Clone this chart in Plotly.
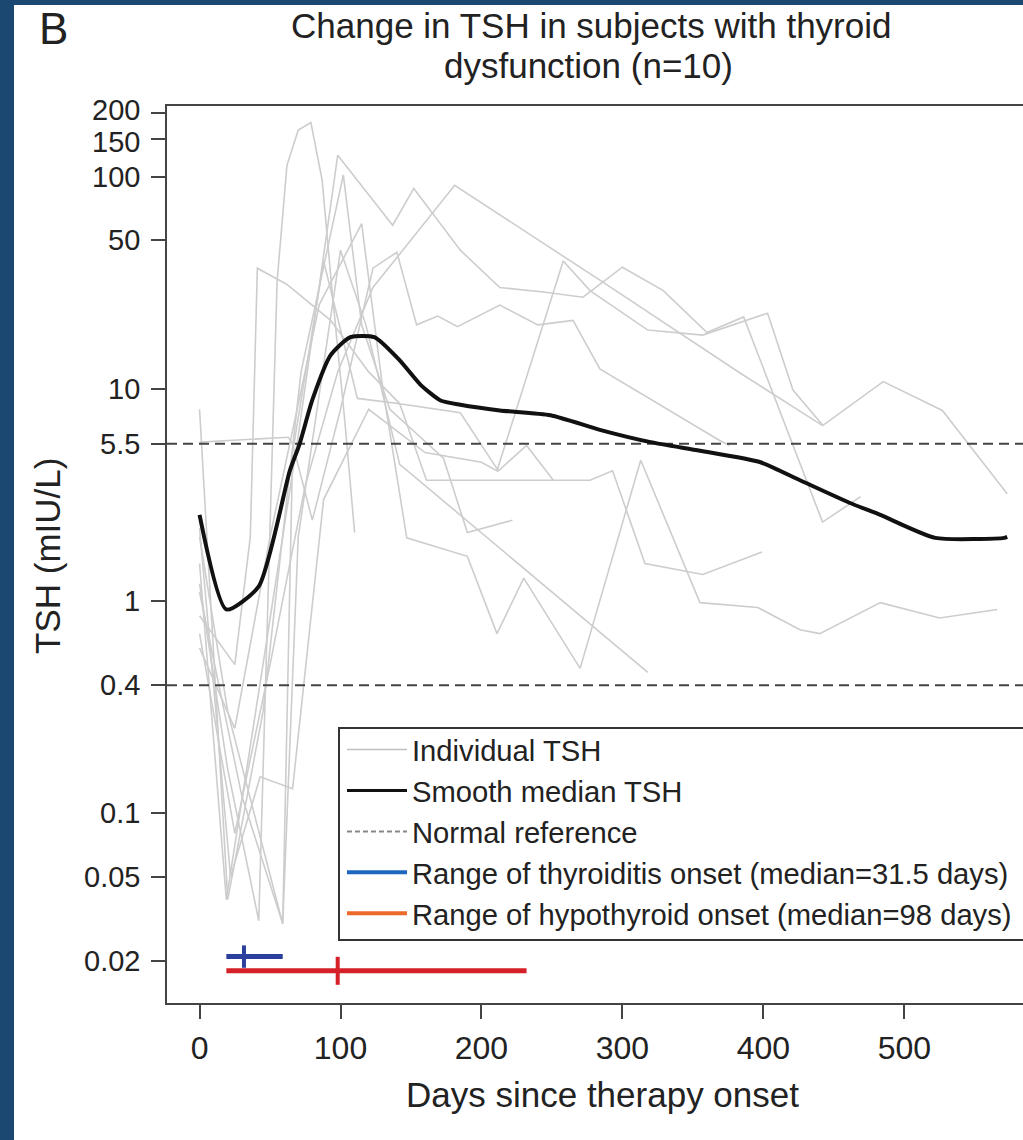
import math
import plotly.graph_objects as go

# ---------------- data ----------------
subj_days = [
    [0, 20, 42, 55, 62, 70, 79, 87, 94, 103, 110],
    [0, 19, 45, 70, 98, 137, 152, 185, 213, 244, 272, 300, 329, 360, 386, 442, 469],
    [0, 25, 50, 75, 98, 123, 181, 284, 384, 442, 485, 527, 573],
    [0, 20, 45, 72, 102, 115, 135, 173, 190, 222],
    [0, 30, 59, 66, 88, 112, 142, 161, 277, 293, 316, 357, 399],
    [0, 25, 50, 85, 115, 130, 147, 190, 211, 230, 270, 313, 355, 396, 426, 440, 483, 525, 566],
    [0, 20, 59, 70, 100, 118, 142, 318],
    [0, 25, 36, 41, 62, 93, 120, 142, 185, 212, 232, 251],
    [0, 63, 66, 80, 100, 123, 140, 154, 169, 183, 213, 240, 265, 284, 369, 376],
    [0, 22, 43, 66, 88, 120, 160, 200, 211, 258, 277, 318, 357, 403, 421, 442],
]
subj_tsh = [
    [1.2, 0.16, 0.031, 32, 113, 166, 180, 96, 29, 7.1, 2.1],
    [1.5, 0.039, 0.5, 6, 126, 59, 88, 45, 30, 28.6, 27, 37.4, 29, 18.4, 21.8, 2.35, 3.1],
    [0.7, 0.08, 0.5, 3.5, 12, 30, 91, 32.5, 11.8, 6.7, 10.8, 7.9, 3.2],
    [8, 0.039, 0.3, 12, 102, 20, 8, 4.7, 2.1, 2.4],
    [1.1, 0.12, 0.03, 5, 40, 9, 8.5, 3.7, 3.7, 4.1, 1.5, 1.33, 1.7],
    [0.6, 0.25, 2, 25, 60, 10, 1.98, 1.62, 0.70, 1.28, 0.48, 4.6, 0.98, 0.93, 0.73, 0.70, 0.98, 0.83, 0.91],
    [2.0, 0.3, 0.03, 2, 45, 20, 4.4, 0.46],
    [0.85, 0.5, 2, 37, 31, 21, 12, 8.5, 7.7, 4.1, 5.4, 3.7],
    [5.6, 5.9, 5.5, 2.4, 8, 37, 44, 20, 22, 19.6, 24.8, 20, 21, 12.4, 5.7, 5.4],
    [2.2, 0.05, 0.148, 0.13, 3, 8, 5, 4.5, 4.1, 40, 29, 18.9, 17.9, 22.7, 9.85, 6.75],
]

median_days = [0, 19, 42, 64, 71, 80, 93, 107, 124, 142, 157, 171, 185, 213, 249, 284, 320,
               355, 398, 426, 461, 483, 522, 571, 573]
median_tsh = [2.54, 0.91, 1.17, 4.1, 5.5, 8.85, 14.4, 17.5, 17.5, 13.6, 10.4, 8.8, 8.4, 7.9,
              7.5, 6.4, 5.6, 5.1, 4.5, 3.7, 2.9, 2.54, 1.98, 1.98, 2.0]

normal_ref = [5.5, 0.4]

thyroiditis_range = [19, 59]
thyroiditis_median = 31.5
thyroiditis_level = 0.021
hypo_range = [19, 232]
hypo_median = 98
hypo_level = 0.018

x_range = [-23.1, 584.2]
y_range_log = [-1.8965, 2.333]

y_tickvals = [200, 150, 100, 50, 10, 5.5, 1, 0.4, 0.1, 0.05, 0.02]
y_ticktext = ["200", "150", "100", "50", "10", "5.5", "1", "0.4", "0.1", "0.05", "0.02"]
x_tickvals = [0, 100, 200, 300, 400, 500]

title_lines = ["Change in TSH in subjects with thyroid", "dysfunction (n=10)"]
legend_labels = [
    "Individual TSH",
    "Smooth median TSH",
    "Normal reference",
    "Range of thyroiditis onset (median=31.5 days)",
    "Range of hypothyroid onset (median=98 days)",
]

# ---------------- layout geometry (page pixels; body margin removed below) ----------------
W, H = 1023, 1140
L, R, T, B = 167, 0, 106, 137
PW, PH = W - L - R, H - T - B


def px(page_x):
    return (page_x - L) / PW


def py(page_y):
    return (H - B - page_y) / PH


FONT = "Liberation Sans, Arial, Helvetica, sans-serif"
GRAY = "#cdcdcd"
BG_BLUE = "#1b4870"
TXT = "#222222"

fig = go.Figure()

for d, v in zip(subj_days, subj_tsh):
    fig.add_trace(go.Scatter(x=d, y=v, mode="lines", line=dict(color=GRAY, width=1.6),
                             showlegend=False, hoverinfo="skip"))

for ref in normal_ref:
    fig.add_trace(go.Scatter(x=x_range, y=[ref, ref], mode="lines",
                             line=dict(color="#444444", width=2, dash="10px,6px"),
                             showlegend=False, hoverinfo="skip"))

fig.add_trace(go.Scatter(x=median_days, y=median_tsh, mode="lines",
                         line=dict(color="#111111", width=4, shape="spline", smoothing=0.6),
                         showlegend=False))

# onset ranges
fig.add_trace(go.Scatter(x=thyroiditis_range, y=[thyroiditis_level] * 2, mode="lines",
                         line=dict(color="#2b3f9c", width=5), showlegend=False))
fig.add_trace(go.Scatter(x=[thyroiditis_median], y=[thyroiditis_level], mode="markers",
                         marker=dict(symbol="line-ns", size=16, line=dict(color="#2b3f9c", width=4)),
                         showlegend=False))
fig.add_trace(go.Scatter(x=hypo_range, y=[hypo_level] * 2, mode="lines",
                         line=dict(color="#d62028", width=5), showlegend=False))
fig.add_trace(go.Scatter(x=[hypo_median], y=[hypo_level], mode="markers",
                         marker=dict(symbol="line-ns", size=20, line=dict(color="#d62028", width=4)),
                         showlegend=False))

# legend entries
leg_styles = [
    dict(color="#c0c0c0", width=1.6),
    dict(color="#111111", width=3),
    dict(color="#888888", width=2, dash="5px,3px"),
    dict(color="#1f68c0", width=4),
    dict(color="#ec6a2c", width=4),
]
for name, st in zip(legend_labels, leg_styles):
    fig.add_trace(go.Scatter(x=[None], y=[None], mode="lines", name=name, line=st))

annotations = [
    dict(text=title_lines[0], xref="paper", yref="paper", x=px(591), y=py(25),
         xanchor="center", yanchor="middle", showarrow=False,
         font=dict(size=35, family=FONT, color=TXT)),
    dict(text=title_lines[1], xref="paper", yref="paper", x=px(588), y=py(65),
         xanchor="center", yanchor="middle", showarrow=False,
         font=dict(size=35, family=FONT, color=TXT)),
    dict(text="B", xref="paper", yref="paper", x=px(53), y=py(29),
         xanchor="center", yanchor="middle", showarrow=False,
         font=dict(size=44, family=FONT, color=TXT)),
    dict(text="Days since therapy onset", xref="paper", yref="paper",
         x=px(602), y=py(1094), xanchor="center", yanchor="middle",
         showarrow=False, font=dict(size=35, family=FONT, color=TXT)),
    dict(text="TSH (mIU/L)", xref="paper", yref="paper", textangle=-90,
         x=px(47), y=py(556), xanchor="center", yanchor="middle",
         showarrow=False, font=dict(size=35, family=FONT, color=TXT)),
]
shift = {"200": 3, "150": -3}
for val, txt in zip(y_tickvals, y_ticktext):
    annotations.append(dict(text=txt, xref="paper", yref="y", x=px(141), y=math.log10(val),
                            xanchor="right", yanchor="middle", showarrow=False,
                            yshift=shift.get(txt, 0), borderpad=0,
                            font=dict(size=29, family=FONT, color=TXT)))

fig.update_layout(
    width=W, height=H, autosize=False,
    margin=dict(l=L, r=R, t=T, b=B, pad=0),
    paper_bgcolor=BG_BLUE,
    plot_bgcolor="white",
    font=dict(family=FONT, color=TXT, size=28),
    shapes=[
        dict(type="rect", xref="paper", yref="paper", x0=px(14), x1=px(1040),
             y0=py(1150), y1=py(5), fillcolor="white", line=dict(width=0), layer="below"),
        dict(type="rect", xref="paper", yref="paper", x0=px(339), x1=px(1060),
             y0=py(940), y1=py(728), fillcolor="white",
             line=dict(width=2, color="#333333"), layer="above"),
    ],
    legend=dict(x=px(342), y=py(724), xanchor="left", yanchor="top",
                bgcolor="rgba(0,0,0,0)", borderwidth=0, itemwidth=60,
                font=dict(size=29.2, family=FONT, color=TXT), tracegroupgap=0),
    annotations=annotations,
)

fig.update_xaxes(range=x_range, showgrid=False, zeroline=False, showline=True, mirror=True,
                 linecolor="#444444", linewidth=2, ticks="outside", ticklen=14, tickwidth=2,
                 tickcolor="#444444", tickvals=x_tickvals, ticklabelstandoff=2,
                 tickfont=dict(size=32, family=FONT, color=TXT))
fig.update_yaxes(type="log", range=y_range_log, showgrid=False, zeroline=False, showline=True,
                 mirror=False, linecolor="#444444", linewidth=2, ticks="outside", ticklen=14,
                 tickwidth=2, tickcolor="#444444", tickvals=y_tickvals, showticklabels=False)

fig.write_html("out.html",
               config={"displayModeBar": False},
               post_script="document.body.style.margin='0';"
                           "document.body.style.background='" + BG_BLUE + "';")
